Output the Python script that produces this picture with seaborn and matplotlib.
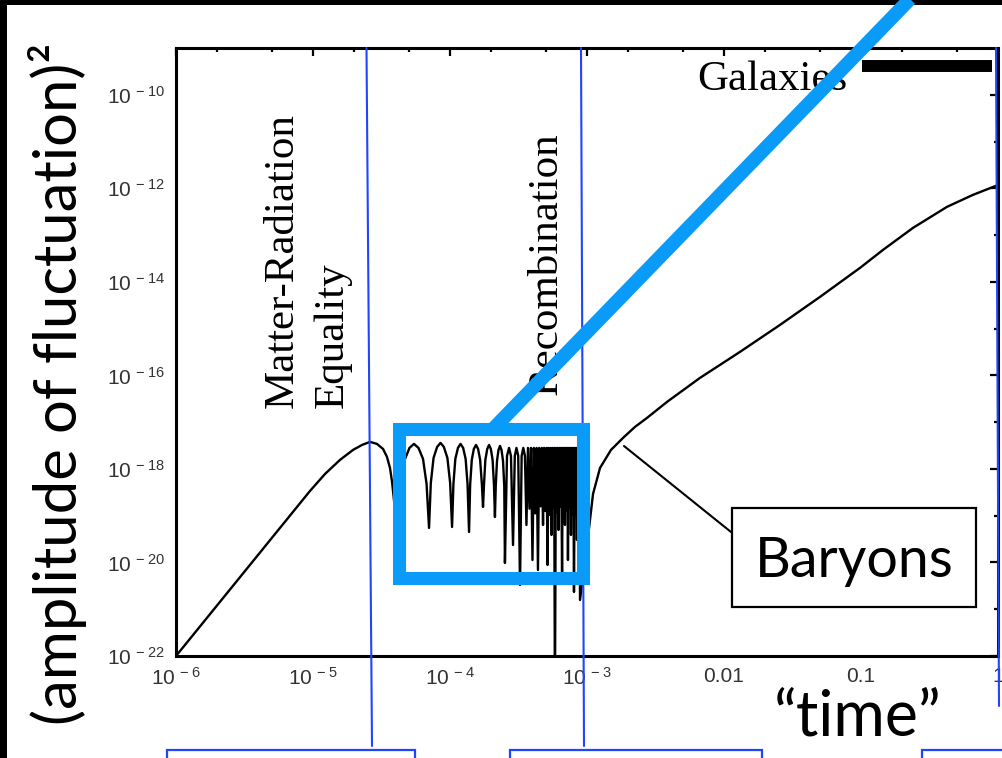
import numpy as np
import matplotlib
matplotlib.use("Agg")
import matplotlib.pyplot as plt
import seaborn as sns
from matplotlib.lines import Line2D
from matplotlib.patches import Rectangle
from matplotlib.ticker import FixedLocator, LogLocator, NullFormatter

# ---------------------------------------------------------------------------
# Baryon fluctuation history, as log10("time") and log10(amplitude^2)
# ---------------------------------------------------------------------------
# growth up to matter-radiation equality
log_time_early = [-6.000, -5.022, -4.912, -4.803, -4.708, -4.642, -4.584,
                  -4.533, -4.489, -4.460, -4.438, -4.423, -4.409, -4.394]
log_amp_early = [-22.000, -18.471, -18.107, -17.807, -17.594, -17.487, -17.422,
                 -17.465, -17.572, -17.743, -17.979, -18.278, -18.663, -19.134]

# acoustic oscillations until recombination
log_time_osc = [
    -4.372,
    -4.355, -4.328, -4.296, -4.263, -4.230, -4.197, -4.171, -4.153,
    -4.140, -4.120, -4.094, -4.069, -4.045, -4.019, -3.999, -3.985,
    -3.975, -3.961, -3.942, -3.923, -3.904, -3.886, -3.872, -3.861,
    -3.853, -3.841, -3.826, -3.810, -3.795, -3.780, -3.767, -3.759,
    -3.752, -3.742, -3.728, -3.715, -3.702, -3.689, -3.679, -3.672,
    -3.666, -3.657, -3.646, -3.635, -3.624, -3.613, -3.604, -3.599,
    -3.584, -3.569, -3.555, -3.540,
    -3.527, -3.515, -3.502, -3.489,
    -3.477, -3.465, -3.453, -3.442,
    -3.431, -3.420, -3.409, -3.398,
    -3.388, -3.378, -3.368, -3.358,
    -3.349, -3.339, -3.330, -3.321,
    -3.313, -3.305, -3.296, -3.288,
    -3.281, -3.274, -3.266, -3.259,
    -3.253, -3.246, -3.240, -3.234,
    -3.227, -3.221, -3.215, -3.208,
    -3.201, -3.195, -3.189, -3.182,
    -3.177, -3.172, -3.166, -3.161,
    -3.155, -3.150, -3.144, -3.139,
    -3.133, -3.128, -3.122, -3.117,
    -3.111, -3.106, -3.100, -3.095,
    -3.089, -3.084, -3.078, -3.073,
    -3.067, -3.062, -3.056, -3.051,
]
log_amp_osc = [
    -19.519,
    -18.321, -17.786, -17.551, -17.465, -17.551, -17.786, -18.321, -19.262,
    -18.299, -17.765, -17.529, -17.444, -17.529, -17.765, -18.299, -19.241,
    -18.321, -17.786, -17.551, -17.465, -17.551, -17.786, -18.321, -19.348,
    -18.342, -17.807, -17.572, -17.487, -17.572, -17.807, -18.342, -18.813,
    -18.342, -17.807, -17.572, -17.487, -17.572, -17.807, -18.342, -19.027,
    -18.364, -17.829, -17.594, -17.508, -17.594, -17.829, -18.364, -20.011,
    -17.722, -17.551, -17.722, -19.626,
    -17.722, -17.551, -17.722, -20.481,
    -17.722, -17.551, -17.722, -19.198,
    -17.551, -18.850, -17.551, -19.947,
    -17.551, -18.950, -17.551, -20.160,
    -17.551, -18.800, -17.551, -19.198,
    -17.551, -18.900, -17.551, -20.053,
    -17.551, -18.980, -17.551, -19.412,
    -17.551, -18.850, -17.551, -23.000,
    -17.551, -18.920, -17.551, -19.305,
    -17.551, -18.800, -17.551, -20.203,
    -17.551, -18.950, -17.551, -19.198,
    -17.551, -18.880, -17.551, -19.947,
    -17.551, -18.830, -17.551, -19.412,
    -17.551, -18.970, -17.551, -20.631,
    -17.551, -18.860, -17.551, -19.519,
    -17.551, -18.900, -17.551, -20.802,
]

# growth after recombination
log_time_late = [-2.985, -2.956, -2.905, -2.825, -2.737, -2.650, -2.562, -2.416, -2.175,
                 -1.883, -1.591, -1.299, -1.007, -0.839, -0.620, -0.372, -0.182, -0.015]
log_amp_late = [-19.262, -18.535, -17.979, -17.594, -17.337, -17.102, -16.909, -16.567,
                -16.053, -15.497, -14.920, -14.321, -13.701, -13.316, -12.845, -12.396,
                -12.139, -11.947]

x_ticks = [1e-6, 1e-5, 1e-4, 1e-3, 1e-2, 1e-1, 1.0]
x_tick_labels = [r"$\mathregular{10^{\,-6}}$", r"$\mathregular{10^{\,-5}}$",
                 r"$\mathregular{10^{\,-4}}$", r"$\mathregular{10^{\,-3}}$",
                 "0.01", "0.1", "1"]
y_exponents = [-22, -20, -18, -16, -14, -12, -10]
y_minor_exponents = [-21, -19, -17, -15, -13, -11]

# epoch labels: (text, log time of baseline, log amplitude where text starts)
epoch_labels = [
    ("Matter-Radiation", -5.146, -16.695),
    ("Equality", -4.781, -16.695),
    ("Recombination", -3.219, -16.417),
]
galaxy_label = ("Galaxies", -2.197, -9.893)
galaxy_span = [0.1016, 0.904]
galaxy_level = 4.2e-10

W, H = 1003, 758


def fx(x):
    return x / W


def fy(y):
    return 1 - y / H


sns.set_style("white")
plt.rcParams["mathtext.fontset"] = "custom"
plt.rcParams["mathtext.rm"] = "Liberation Sans"
plt.rcParams["font.family"] = ["Liberation Sans", "DejaVu Sans"]

fig = plt.figure(figsize=(W / 100, H / 100), dpi=100, facecolor="black")
fig.add_artist(Rectangle((fx(7), 0), 1 - fx(7), fy(5), transform=fig.transFigure,
                         facecolor="white", edgecolor="none", zorder=-10))

ax = fig.add_axes([fx(176), fy(656), 822 / W, 608 / H])
ax.set_facecolor("white")

log_time = np.concatenate([log_time_early, log_time_osc, log_time_late])
log_amp = np.concatenate([log_amp_early, log_amp_osc, log_amp_late])
sns.lineplot(x=10 ** log_time, y=10 ** log_amp, ax=ax, color="black",
             linewidth=1.7, estimator=None, sort=False)

ax.set_xscale("log")
ax.set_yscale("log")
ax.set_xlim(1e-6, 1.0)
ax.set_ylim(1e-22, 1e-9)

ax.set_xticks(x_ticks)
ax.set_xticklabels(x_tick_labels)
ax.xaxis.set_minor_locator(LogLocator(base=10, subs=(2, 5), numticks=30))
ax.xaxis.set_minor_formatter(NullFormatter())
ax.set_yticks([10.0 ** e for e in y_exponents])
ax.set_yticklabels([r"$\mathregular{10^{\,%d}}$" % e for e in y_exponents])
ax.yaxis.set_minor_locator(FixedLocator([10.0 ** e for e in y_minor_exponents]))
ax.yaxis.set_minor_formatter(NullFormatter())

ax.tick_params(which="both", direction="in", top=True, right=True,
               color="black", width=1.6, labelsize=15, labelcolor="#333333")
ax.tick_params(which="major", length=6)
ax.tick_params(which="minor", length=3)
ax.tick_params(axis="x", pad=8)
ax.tick_params(axis="y", pad=8)
for side in ax.spines.values():
    side.set_linewidth(2.2)
    side.set_color("black")
ax.set_xlabel("")
ax.set_ylabel("")

for text, lt, la in epoch_labels:
    ax.text(10 ** lt, 10 ** la, text, rotation=90, rotation_mode="anchor",
            ha="left", va="baseline", fontsize=31, family="Liberation Serif",
            color="black")
ax.text(10 ** galaxy_label[1], 10 ** galaxy_label[2], galaxy_label[0],
        ha="left", va="baseline", fontsize=31, family="Liberation Serif",
        color="black")
ax.plot(galaxy_span, [galaxy_level, galaxy_level], color="black", lw=8.6,
        solid_capstyle="butt")

# ---------------------------------------------------------------------------
# slide overlays
# ---------------------------------------------------------------------------
thin_blue = "#1f45ff"
bright_blue = "#0a9af7"

for (x0, y0), (x1, y1) in [((366.5, 48), (372, 746)),
                           ((581, 48), (584, 746)),
                           ((996, 48), (999, 706))]:
    fig.add_artist(Line2D([fx(x0), fx(x1)], [fy(y0), fy(y1)], color=thin_blue,
                          lw=1.5, transform=fig.transFigure, zorder=5))

for x0, w in [(167, 248), (510, 252), (922, 110)]:
    fig.add_artist(Rectangle((fx(x0), fy(775)), w / W, 25 / H, fill=False,
                             edgecolor=thin_blue, lw=1.6,
                             transform=fig.transFigure, zorder=5))

fig.add_artist(Rectangle((fx(399.5), fy(578)), (583 - 399.5) / W, (578 - 428.5) / H,
                         fill=False, edgecolor=bright_blue, lw=9.4, joinstyle="miter",
                         transform=fig.transFigure, zorder=6))
fig.add_artist(Line2D([fx(494), fx(912)], [fy(428), fy(-3)], color=bright_blue,
                      lw=10, solid_capstyle="butt", transform=fig.transFigure, zorder=6))

fig.add_artist(Line2D([fx(624), fx(731)], [fy(446), fy(532)], color="black", lw=1.5,
                      transform=fig.transFigure, zorder=6))
fig.add_artist(Rectangle((fx(732), fy(607)), 244 / W, 99 / H, facecolor="white",
                         edgecolor="black", lw=1.6, transform=fig.transFigure, zorder=6))
fig.text(fx(854), fy(577), "Baryons", ha="center", va="baseline",
         family="Lato", fontsize=40, color="black", zorder=7)

fig.text(fx(774), fy(735), "\u201ctime\u201d", ha="left", va="baseline",
         family="Lato", fontsize=45, color="black", zorder=7)
fig.text(fx(77), fy(384), "(amplitude of fluctuation)\u00b2", rotation=90,
         rotation_mode="anchor", ha="center", va="baseline",
         family="Lato", fontsize=43, color="black", zorder=7)

fig.savefig("out.png", dpi=100, facecolor="black")
